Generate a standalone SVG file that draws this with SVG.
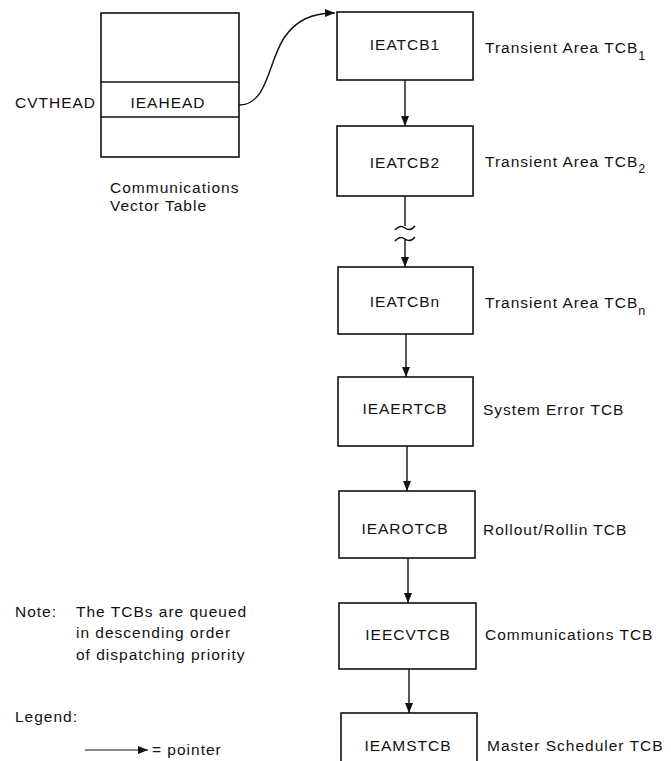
<svg xmlns="http://www.w3.org/2000/svg" width="671" height="761" viewBox="0 0 671 761">
<defs>
<marker id="ah" markerWidth="10" markerHeight="10" viewBox="0 0 10 10" refX="10" refY="5" orient="auto" markerUnits="userSpaceOnUse">
<path d="M0,1 L10,5 L0,9 Z" fill="#111"/>
</marker>
<style>
text{font-family:"Liberation Sans",Arial,sans-serif;font-size:15.5px;letter-spacing:1px;fill:#111}
.box{fill:#fff;stroke:#111;stroke-width:1.6}
.ln{fill:none;stroke:#111;stroke-width:1.4}
.c{text-anchor:middle}
.sub{font-size:12.5px}
</style>
</defs>
<rect width="671" height="761" fill="#fff"/>

<g id="cvt">
<rect class="box" x="101" y="13" width="138" height="144"/>
<line class="ln" x1="101" y1="82" x2="239" y2="82"/>
<line class="ln" x1="101" y1="117" x2="239" y2="117"/>
<text x="15" y="108">CVTHEAD</text>
<text class="c" x="168" y="108">IEAHEAD</text>
<text x="110" y="193">Communications</text>
<text x="110" y="211">Vector Table</text>
</g>

<g id="tcb1">
<rect class="box" x="337" y="12" width="136" height="68"/>
<text class="c" x="405" y="50">IEATCB1</text>
<text x="485" y="53">Transient Area TCB<tspan class="sub" dy="7">1</tspan></text>
</g>
<g id="tcb2">
<rect class="box" x="337" y="126" width="136" height="70"/>
<text class="c" x="405" y="168">IEATCB2</text>
<text x="485" y="167">Transient Area TCB<tspan class="sub" dy="6">2</tspan></text>
</g>
<g id="tcbn">
<rect class="box" x="338" y="267" width="135" height="67"/>
<text class="c" x="405" y="307">IEATCBn</text>
<text x="485" y="308">Transient Area TCB<tspan class="sub" dy="7">n</tspan></text>
</g>
<g id="ertcb">
<rect class="box" x="338" y="377" width="135" height="69"/>
<text class="c" x="405" y="414">IEAERTCB</text>
<text x="483" y="415">System Error TCB</text>
</g>
<g id="rotcb">
<rect class="box" x="339" y="491" width="136" height="67"/>
<text class="c" x="405" y="534">IEAROTCB</text>
<text x="483" y="535">Rollout/Rollin TCB</text>
</g>
<g id="cvtcb">
<rect class="box" x="339" y="603" width="137" height="66"/>
<text class="c" x="408" y="640">IEECVTCB</text>
<text x="485" y="640">Communications TCB</text>
</g>
<g id="mstcb">
<rect class="box" x="341" y="713" width="136" height="60"/>
<text class="c" x="408" y="751">IEAMSTCB</text>
<text x="487" y="751">Master Scheduler TCB</text>
</g>

<g id="notes">
<text x="15" y="617">Note:</text>
<text x="76" y="617">The TCBs are queued</text>
<text x="76" y="638">in descending order</text>
<text x="76" y="660">of dispatching priority</text>
<text x="15" y="722">Legend:</text>
<line x1="85" y1="750" x2="148" y2="750" stroke="#111" stroke-width="1" marker-end="url(#ah)"/>
<text x="152" y="755">= pointer</text>
</g>

<g id="connectors">
<path class="ln" d="M239,105 C268,105 268,62 284,38 C296,20 312,13 335,13" marker-end="url(#ah)"/>
<line class="ln" x1="405" y1="80" x2="405" y2="126" marker-end="url(#ah)"/>
<line class="ln" x1="405" y1="196" x2="405" y2="226"/>
<path class="ln" d="M395,230 q5,-6 10,-2 q5,4 10,-2"/>
<path class="ln" d="M395,241 q5,-6 10,-2 q5,4 10,-2"/>
<line class="ln" x1="405" y1="239" x2="405" y2="267" marker-end="url(#ah)"/>
<line class="ln" x1="406" y1="334" x2="406" y2="377" marker-end="url(#ah)"/>
<line class="ln" x1="407" y1="446" x2="407" y2="491" marker-end="url(#ah)"/>
<line class="ln" x1="408" y1="558" x2="408" y2="603" marker-end="url(#ah)"/>
<line class="ln" x1="409" y1="669" x2="409" y2="713" marker-end="url(#ah)"/>
</g>
</svg>
